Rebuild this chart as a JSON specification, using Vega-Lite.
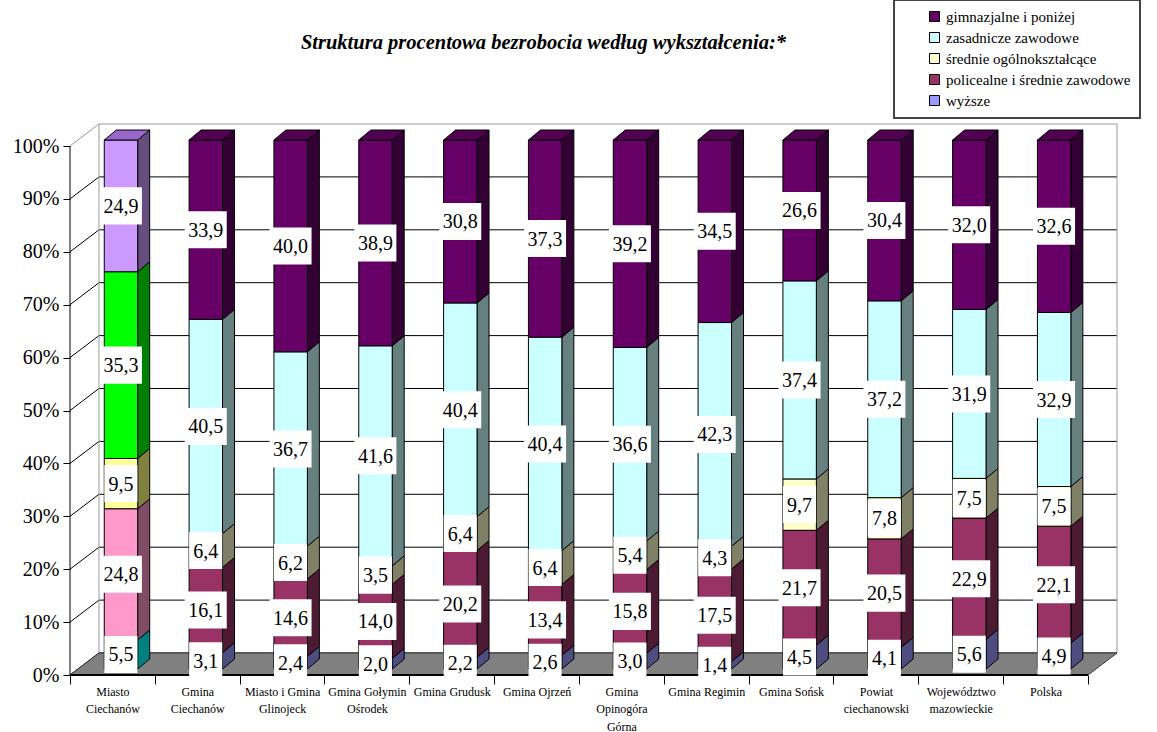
{
  "$schema": "https://vega.github.io/schema/vega-lite/v6.json",
  "width": 1047,
  "height": 551,
  "autosize": "none",
  "padding": {"left": 70, "top": 124, "right": 40, "bottom": 57},
  "background": "white",
  "config": {
    "view": {"stroke": null},
    "font": "Times New Roman, Liberation Serif, serif",
    "legend": {"strokeWidth": 2}
  },
  "title": {
    "text": "Struktura procentowa bezrobocia według wykształcenia:*",
    "font": "Times New Roman, Liberation Serif, serif",
    "fontSize": 20.5,
    "fontWeight": "bold",
    "fontStyle": "italic",
    "color": "black",
    "anchor": "middle",
    "frame": "group",
    "dx": -50,
    "offset": -74,
    "baseline": "bottom"
  },
  "datasets": {
    "bars": [
      {"cat": "Miasto Ciechanów", "series": "wyższe", "value": 5.5},
      {"cat": "Miasto Ciechanów", "series": "policealne i średnie zawodowe", "value": 24.8},
      {"cat": "Miasto Ciechanów", "series": "średnie ogólnokształcące", "value": 9.5},
      {"cat": "Miasto Ciechanów", "series": "zasadnicze zawodowe", "value": 35.3},
      {"cat": "Miasto Ciechanów", "series": "gimnazjalne i poniżej", "value": 24.9},
      {"cat": "Gmina Ciechanów", "series": "wyższe", "value": 3.1},
      {"cat": "Gmina Ciechanów", "series": "policealne i średnie zawodowe", "value": 16.1},
      {"cat": "Gmina Ciechanów", "series": "średnie ogólnokształcące", "value": 6.4},
      {"cat": "Gmina Ciechanów", "series": "zasadnicze zawodowe", "value": 40.5},
      {"cat": "Gmina Ciechanów", "series": "gimnazjalne i poniżej", "value": 33.9},
      {"cat": "Miasto i Gmina Glinojeck", "series": "wyższe", "value": 2.4},
      {"cat": "Miasto i Gmina Glinojeck", "series": "policealne i średnie zawodowe", "value": 14.6},
      {"cat": "Miasto i Gmina Glinojeck", "series": "średnie ogólnokształcące", "value": 6.2},
      {"cat": "Miasto i Gmina Glinojeck", "series": "zasadnicze zawodowe", "value": 36.7},
      {"cat": "Miasto i Gmina Glinojeck", "series": "gimnazjalne i poniżej", "value": 40.0},
      {"cat": "Gmina Gołymin Ośrodek", "series": "wyższe", "value": 2.0},
      {"cat": "Gmina Gołymin Ośrodek", "series": "policealne i średnie zawodowe", "value": 14.0},
      {"cat": "Gmina Gołymin Ośrodek", "series": "średnie ogólnokształcące", "value": 3.5},
      {"cat": "Gmina Gołymin Ośrodek", "series": "zasadnicze zawodowe", "value": 41.6},
      {"cat": "Gmina Gołymin Ośrodek", "series": "gimnazjalne i poniżej", "value": 38.9},
      {"cat": "Gmina Grudusk", "series": "wyższe", "value": 2.2},
      {"cat": "Gmina Grudusk", "series": "policealne i średnie zawodowe", "value": 20.2},
      {"cat": "Gmina Grudusk", "series": "średnie ogólnokształcące", "value": 6.4},
      {"cat": "Gmina Grudusk", "series": "zasadnicze zawodowe", "value": 40.4},
      {"cat": "Gmina Grudusk", "series": "gimnazjalne i poniżej", "value": 30.8},
      {"cat": "Gmina Ojrzeń", "series": "wyższe", "value": 2.6},
      {"cat": "Gmina Ojrzeń", "series": "policealne i średnie zawodowe", "value": 13.4},
      {"cat": "Gmina Ojrzeń", "series": "średnie ogólnokształcące", "value": 6.4},
      {"cat": "Gmina Ojrzeń", "series": "zasadnicze zawodowe", "value": 40.4},
      {"cat": "Gmina Ojrzeń", "series": "gimnazjalne i poniżej", "value": 37.3},
      {"cat": "Gmina Opinogóra Górna", "series": "wyższe", "value": 3.0},
      {"cat": "Gmina Opinogóra Górna", "series": "policealne i średnie zawodowe", "value": 15.8},
      {"cat": "Gmina Opinogóra Górna", "series": "średnie ogólnokształcące", "value": 5.4},
      {"cat": "Gmina Opinogóra Górna", "series": "zasadnicze zawodowe", "value": 36.6},
      {"cat": "Gmina Opinogóra Górna", "series": "gimnazjalne i poniżej", "value": 39.2},
      {"cat": "Gmina Regimin", "series": "wyższe", "value": 1.4},
      {"cat": "Gmina Regimin", "series": "policealne i średnie zawodowe", "value": 17.5},
      {"cat": "Gmina Regimin", "series": "średnie ogólnokształcące", "value": 4.3},
      {"cat": "Gmina Regimin", "series": "zasadnicze zawodowe", "value": 42.3},
      {"cat": "Gmina Regimin", "series": "gimnazjalne i poniżej", "value": 34.5},
      {"cat": "Gmina Sońsk", "series": "wyższe", "value": 4.5},
      {"cat": "Gmina Sońsk", "series": "policealne i średnie zawodowe", "value": 21.7},
      {"cat": "Gmina Sońsk", "series": "średnie ogólnokształcące", "value": 9.7},
      {"cat": "Gmina Sońsk", "series": "zasadnicze zawodowe", "value": 37.4},
      {"cat": "Gmina Sońsk", "series": "gimnazjalne i poniżej", "value": 26.6},
      {"cat": "Powiat ciechanowski", "series": "wyższe", "value": 4.1},
      {"cat": "Powiat ciechanowski", "series": "policealne i średnie zawodowe", "value": 20.5},
      {"cat": "Powiat ciechanowski", "series": "średnie ogólnokształcące", "value": 7.8},
      {"cat": "Powiat ciechanowski", "series": "zasadnicze zawodowe", "value": 37.2},
      {"cat": "Powiat ciechanowski", "series": "gimnazjalne i poniżej", "value": 30.4},
      {"cat": "Województwo mazowieckie", "series": "wyższe", "value": 5.6},
      {"cat": "Województwo mazowieckie", "series": "policealne i średnie zawodowe", "value": 22.9},
      {"cat": "Województwo mazowieckie", "series": "średnie ogólnokształcące", "value": 7.5},
      {"cat": "Województwo mazowieckie", "series": "zasadnicze zawodowe", "value": 31.9},
      {"cat": "Województwo mazowieckie", "series": "gimnazjalne i poniżej", "value": 32.0},
      {"cat": "Polska", "series": "wyższe", "value": 4.9},
      {"cat": "Polska", "series": "policealne i średnie zawodowe", "value": 22.1},
      {"cat": "Polska", "series": "średnie ogólnokształcące", "value": 7.5},
      {"cat": "Polska", "series": "zasadnicze zawodowe", "value": 32.9},
      {"cat": "Polska", "series": "gimnazjalne i poniżej", "value": 32.6}
    ],
    "ticks": [
      {"t": 0}, {"t": 10}, {"t": 20}, {"t": 30}, {"t": 40}, {"t": 50},
      {"t": 60}, {"t": 70}, {"t": 80}, {"t": 90}, {"t": 100}
    ]
  },
  "encoding": {
    "x": {
      "field": "x",
      "type": "quantitative",
      "stack": null,
      "scale": {"domain": [0, 12.342], "nice": false, "zero": false},
      "axis": {
        "values": [0, 1, 2, 3, 4, 5, 6, 7, 8, 9, 10, 11, 12],
        "labelExpr": "split(['Miasto|Ciechanów','Gmina|Ciechanów','Miasto i Gmina|Glinojeck','Gmina Gołymin|Ośrodek','Gmina Grudusk','Gmina Ojrzeń','Gmina|Opinogóra|Górna','Gmina Regimin','Gmina Sońsk','Powiat|ciechanowski','Województwo|mazowieckie','Polska',''][datum.value], '|')",
        "labelOffset": 42.4,
        "domain": false,
        "grid": false,
        "ticks": true,
        "tickSize": 9,
        "tickColor": "black",
        "tickWidth": 1,
        "labelFont": "Times New Roman, Liberation Serif, serif",
        "labelFontSize": 12,
        "labelColor": "black",
        "labelLineHeight": 17.5,
        "labelPadding": 2,
        "labelAngle": 0,
        "labelAlign": "center",
        "labelBaseline": "top",
        "labelFlush": false,
        "labelOverlap": false,
        "labelBound": false,
        "labelLimit": 200,
        "title": null
      }
    },
    "y": {
      "field": "y",
      "type": "quantitative",
      "stack": null,
      "scale": {"domain": [0, 104.16], "nice": false, "zero": false},
      "axis": {
        "values": [0, 10, 20, 30, 40, 50, 60, 70, 80, 90, 100],
        "labelExpr": "datum.value + '%'",
        "domain": false,
        "grid": false,
        "tickSize": 7,
        "tickColor": "black",
        "labelFont": "Times New Roman, Liberation Serif, serif",
        "labelFontSize": 20,
        "labelColor": "black",
        "labelPadding": 4,
        "title": null
      }
    }
  },
  "resolve": {"scale": {"fill": "independent"}},
  "layer": [
    {
      "data": {"name": "ticks"},
      "transform": [
        {"calculate": "0.342", "as": "x"},
        {"calculate": "12.342", "as": "x2"},
        {"calculate": "datum.t + 4.16", "as": "y"}
      ],
      "mark": {"type": "rule", "strokeWidth": 1},
      "encoding": {
        "x2": {"field": "x2"},
        "stroke": {"condition": {"test": "datum.t == 100", "value": "#999999"}, "value": "#000000"}
      }
    },
    {
      "data": {"name": "ticks"},
      "transform": [
        {"calculate": "0", "as": "x"},
        {"calculate": "0.342", "as": "x2"},
        {"calculate": "datum.t", "as": "y"},
        {"calculate": "datum.t + 4.16", "as": "y2"}
      ],
      "mark": {"type": "rule", "strokeWidth": 1},
      "encoding": {
        "x2": {"field": "x2"},
        "y2": {"field": "y2"},
        "stroke": {"condition": {"test": "datum.t == 100", "value": "#999999"}, "value": "#000000"}
      }
    },
    {
      "data": {"name": "ticks"},
      "transform": [
        {"filter": "datum.t == 0"},
        {"calculate": "0", "as": "f0"},
        {"calculate": "1", "as": "f1"},
        {"fold": ["f0", "f1"], "as": ["fk", "fv"]},
        {"calculate": "0.342 + datum.fv * 12", "as": "x"},
        {"calculate": "4.16", "as": "y"},
        {"calculate": "104.16", "as": "y2"}
      ],
      "mark": {"type": "rule", "strokeWidth": 1, "stroke": "#999999"},
      "encoding": {"y2": {"field": "y2"}}
    },
    {
      "data": {"name": "ticks"},
      "transform": [
        {"filter": "datum.t == 0"},
        {"calculate": "0", "as": "f0"},
        {"calculate": "1", "as": "f1"},
        {"fold": ["f0", "f1"], "as": ["fk", "fv"]},
        {"calculate": "datum.fv * 4.16", "as": "y"},
        {"calculate": "datum.fv * 0.342", "as": "x"},
        {"calculate": "12 + datum.fv * 0.342", "as": "x2"}
      ],
      "mark": {"type": "area", "orient": "horizontal", "fill": "#808080", "stroke": "#333333", "strokeWidth": 1},
      "encoding": {"x2": {"field": "x2"}}
    },
    {
      "data": {"name": "ticks"},
      "transform": [
        {"filter": "datum.t == 0"},
        {"calculate": "0", "as": "x"},
        {"calculate": "0", "as": "y"},
        {"calculate": "100", "as": "y2"}
      ],
      "mark": {"type": "rule", "strokeWidth": 1, "stroke": "black"},
      "encoding": {"y2": {"field": "y2"}}
    },
    {
      "data": {"name": "ticks"},
      "transform": [
        {"filter": "datum.t == 0"},
        {"calculate": "0", "as": "x"},
        {"calculate": "12", "as": "x2"},
        {"calculate": "0", "as": "y"}
      ],
      "mark": {"type": "rule", "strokeWidth": 2, "stroke": "black"},
      "encoding": {"x2": {"field": "x2"}}
    },
    {
      "data": {"name": "bars"},
      "transform": [
        {"calculate": "indexof(['gimnazjalne i poniżej','zasadnicze zawodowe','średnie ogólnokształcące','policealne i średnie zawodowe','wyższe'], datum.series)", "as": "o"},
        {"calculate": "indexof(['Miasto Ciechanów','Gmina Ciechanów','Miasto i Gmina Glinojeck','Gmina Gołymin Ośrodek','Gmina Grudusk','Gmina Ojrzeń','Gmina Opinogóra Górna','Gmina Regimin','Gmina Sońsk','Powiat ciechanowski','Województwo mazowieckie','Polska'], datum.cat)", "as": "i"},
        {"stack": "value", "groupby": ["cat"], "sort": [{"field": "o", "order": "descending"}], "offset": "normalize", "as": ["s0", "s1"]},
        {"calculate": "1.13 + 100 * datum.s0", "as": "b0"},
        {"calculate": "1.13 + 100 * datum.s1", "as": "b1"},
        {"calculate": "(datum.i == 0 ? 'A|' : '') + datum.series", "as": "key"},
        {"calculate": "0", "as": "f0"},
        {"calculate": "1", "as": "f1"},
        {"fold": ["f0", "f1"], "as": ["fk", "fv"]},
        {"calculate": "datum.i + 0.798 + datum.fv * 0.1415", "as": "x"},
        {"calculate": "datum.b0 + datum.fv * 1.89", "as": "y"},
        {"calculate": "datum.b1 + datum.fv * 1.89", "as": "y2"}
      ],
      "mark": {"type": "area", "orient": "vertical", "stroke": "black", "strokeWidth": 1},
      "encoding": {
        "y2": {"field": "y2"},
        "detail": [{"field": "cat", "type": "nominal"}, {"field": "series", "type": "nominal"}],
        "fill": {
          "field": "key",
          "type": "nominal",
          "legend": null,
          "scale": {
            "domain": ["gimnazjalne i poniżej", "zasadnicze zawodowe", "średnie ogólnokształcące", "policealne i średnie zawodowe", "wyższe", "A|gimnazjalne i poniżej", "A|zasadnicze zawodowe", "A|średnie ogólnokształcące", "A|policealne i średnie zawodowe", "A|wyższe"],
            "range": ["#330033", "#668080", "#808066", "#4D1A33", "#4D4D80", "#664D80", "#008000", "#808040", "#804D66", "#008080"]
          }
        }
      }
    },
    {
      "data": {"name": "bars"},
      "transform": [
        {"calculate": "indexof(['gimnazjalne i poniżej','zasadnicze zawodowe','średnie ogólnokształcące','policealne i średnie zawodowe','wyższe'], datum.series)", "as": "o"},
        {"calculate": "indexof(['Miasto Ciechanów','Gmina Ciechanów','Miasto i Gmina Glinojeck','Gmina Gołymin Ośrodek','Gmina Grudusk','Gmina Ojrzeń','Gmina Opinogóra Górna','Gmina Regimin','Gmina Sońsk','Powiat ciechanowski','Województwo mazowieckie','Polska'], datum.cat)", "as": "i"},
        {"stack": "value", "groupby": ["cat"], "sort": [{"field": "o", "order": "descending"}], "offset": "normalize", "as": ["s0", "s1"]},
        {"calculate": "1.13 + 100 * datum.s0", "as": "y"},
        {"calculate": "1.13 + 100 * datum.s1", "as": "y2"},
        {"calculate": "(datum.i == 0 ? 'A|' : '') + datum.series", "as": "key"},
        {"calculate": "datum.i + 0.404", "as": "x"},
        {"calculate": "datum.i + 0.798", "as": "x2"}
      ],
      "mark": {"type": "rect", "stroke": "black", "strokeWidth": 1},
      "encoding": {
        "x2": {"field": "x2"},
        "y2": {"field": "y2"},
        "fill": {
          "field": "key",
          "type": "nominal",
          "scale": {
            "domain": ["gimnazjalne i poniżej", "zasadnicze zawodowe", "średnie ogólnokształcące", "policealne i średnie zawodowe", "wyższe", "A|gimnazjalne i poniżej", "A|zasadnicze zawodowe", "A|średnie ogólnokształcące", "A|policealne i średnie zawodowe", "A|wyższe"],
            "range": ["#660066", "#CCFFFF", "#FFFFCC", "#993366", "#9999FF", "#CC99FF", "#00FF00", "#FFFF99", "#FF99CC", "#00B0B0"]
          },
          "legend": {
            "values": ["gimnazjalne i poniżej", "zasadnicze zawodowe", "średnie ogólnokształcące", "policealne i średnie zawodowe", "wyższe"],
            "orient": "none",
            "legendX": 824,
            "legendY": -124,
            "title": null,
            "symbolType": "square",
            "symbolSize": 100,
            "symbolStrokeColor": "black",
            "symbolStrokeWidth": 1,
            "symbolOffset": 24,
            "labelFont": "Times New Roman, Liberation Serif, serif",
            "labelFontSize": 15,
            "labelColor": "black",
            "labelOffset": 4,
            "labelLimit": 400,
            "rowPadding": 5,
            "padding": 9,
            "strokeColor": "#444444"
          }
        }
      }
    },
    {
      "data": {"name": "bars"},
      "transform": [
        {"calculate": "indexof(['gimnazjalne i poniżej','zasadnicze zawodowe','średnie ogólnokształcące','policealne i średnie zawodowe','wyższe'], datum.series)", "as": "o"},
        {"filter": "datum.o == 0"},
        {"calculate": "indexof(['Miasto Ciechanów','Gmina Ciechanów','Miasto i Gmina Glinojeck','Gmina Gołymin Ośrodek','Gmina Grudusk','Gmina Ojrzeń','Gmina Opinogóra Górna','Gmina Regimin','Gmina Sońsk','Powiat ciechanowski','Województwo mazowieckie','Polska'], datum.cat)", "as": "i"},
        {"calculate": "(datum.i == 0 ? 'A|' : '') + datum.series", "as": "key"},
        {"calculate": "0", "as": "f0"},
        {"calculate": "1", "as": "f1"},
        {"fold": ["f0", "f1"], "as": ["fk", "fv"]},
        {"calculate": "101.13 + datum.fv * 1.89", "as": "y"},
        {"calculate": "datum.i + 0.404 + datum.fv * 0.1415", "as": "x"},
        {"calculate": "datum.i + 0.798 + datum.fv * 0.1415", "as": "x2"}
      ],
      "mark": {"type": "area", "orient": "horizontal", "stroke": "black", "strokeWidth": 1},
      "encoding": {
        "x2": {"field": "x2"},
        "detail": {"field": "cat", "type": "nominal"},
        "fill": {
          "field": "key",
          "type": "nominal",
          "legend": null,
          "scale": {
            "domain": ["gimnazjalne i poniżej", "A|gimnazjalne i poniżej"],
            "range": ["#520052", "#9966CC"]
          }
        }
      }
    },
    {
      "data": {"name": "bars"},
      "transform": [
        {"calculate": "indexof(['gimnazjalne i poniżej','zasadnicze zawodowe','średnie ogólnokształcące','policealne i średnie zawodowe','wyższe'], datum.series)", "as": "o"},
        {"calculate": "indexof(['Miasto Ciechanów','Gmina Ciechanów','Miasto i Gmina Glinojeck','Gmina Gołymin Ośrodek','Gmina Grudusk','Gmina Ojrzeń','Gmina Opinogóra Górna','Gmina Regimin','Gmina Sońsk','Powiat ciechanowski','Województwo mazowieckie','Polska'], datum.cat)", "as": "i"},
        {"stack": "value", "groupby": ["cat"], "sort": [{"field": "o", "order": "descending"}], "offset": "normalize", "as": ["s0", "s1"]},
        {"calculate": "1.13 + 50 * (datum.s0 + datum.s1)", "as": "mid"},
        {"calculate": "replace(format(datum.value, '.1f'), '.', ',')", "as": "lab"},
        {"calculate": "length(datum.lab) > 3 ? 0.2476 : 0.195", "as": "hw"},
        {"calculate": "datum.i + 0.6 - datum.hw", "as": "x"},
        {"calculate": "datum.i + 0.6 + datum.hw", "as": "x2"},
        {"calculate": "datum.mid - 3.5", "as": "y"},
        {"calculate": "datum.mid + 3.5", "as": "y2"}
      ],
      "mark": {"type": "rect", "fill": "white", "stroke": null},
      "encoding": {
        "x2": {"field": "x2"},
        "y2": {"field": "y2"}
      }
    },
    {
      "data": {"name": "bars"},
      "transform": [
        {"calculate": "indexof(['gimnazjalne i poniżej','zasadnicze zawodowe','średnie ogólnokształcące','policealne i średnie zawodowe','wyższe'], datum.series)", "as": "o"},
        {"calculate": "indexof(['Miasto Ciechanów','Gmina Ciechanów','Miasto i Gmina Glinojeck','Gmina Gołymin Ośrodek','Gmina Grudusk','Gmina Ojrzeń','Gmina Opinogóra Górna','Gmina Regimin','Gmina Sońsk','Powiat ciechanowski','Województwo mazowieckie','Polska'], datum.cat)", "as": "i"},
        {"stack": "value", "groupby": ["cat"], "sort": [{"field": "o", "order": "descending"}], "offset": "normalize", "as": ["s0", "s1"]},
        {"calculate": "1.13 + 50 * (datum.s0 + datum.s1)", "as": "y"},
        {"calculate": "replace(format(datum.value, '.1f'), '.', ',')", "as": "lab"},
        {"calculate": "datum.i + 0.6", "as": "x"}
      ],
      "mark": {"type": "text", "font": "Times New Roman, Liberation Serif, serif", "fontSize": 20, "color": "black", "align": "center", "baseline": "middle", "dy": 1},
      "encoding": {
        "text": {"field": "lab", "type": "nominal"}
      }
    }
  ]
}
